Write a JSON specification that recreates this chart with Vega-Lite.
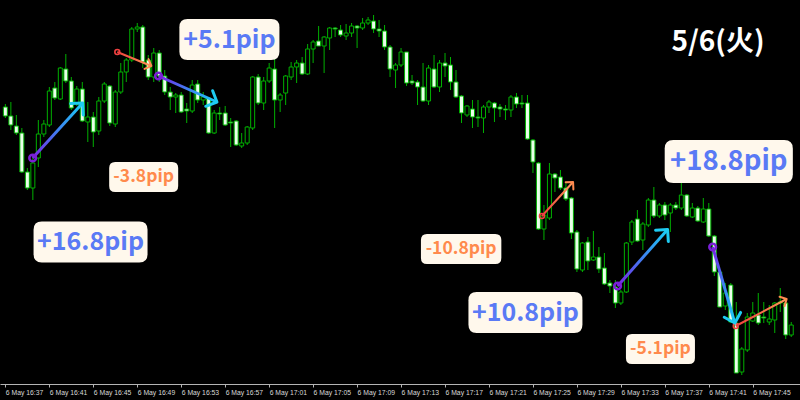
{
"$schema":"https://vega.github.io/schema/vega-lite/v6.json",
"width":800,"height":384,
"autosize":{"type":"none"},
"padding":{"left":0,"top":0,"right":0,"bottom":16},
"background":"#000000",
"config":{"view":{"stroke":null},
 "axisX":{"grid":false,"domainColor":"#b4b4b4","tickColor":"#b4b4b4","tickSize":3,
  "labelAlign":"left","labelBaseline":"top","labelPadding":2,"labelDx":1,
  "labelFont":"Liberation Sans","labelFontSize":6.8,"labelColor":"#d8d8d8",
  "labelOverlap":false,"labelFlush":false,"labelBound":false}},
"datasets":{
"candles":[
{"t":"16:37:00","o":143.393,"h":143.396,"l":143.382,"c":143.384},
{"t":"16:37:30","o":143.384,"h":143.398,"l":143.370,"c":143.375},
{"t":"16:38:00","o":143.374,"h":143.385,"l":143.365,"c":143.367},
{"t":"16:38:30","o":143.367,"h":143.372,"l":143.327,"c":143.328},
{"t":"16:39:00","o":143.328,"h":143.332,"l":143.310,"c":143.312},
{"t":"16:39:30","o":143.312,"h":143.345,"l":143.300,"c":143.337},
{"t":"16:40:00","o":143.342,"h":143.380,"l":143.333,"c":143.366},
{"t":"16:40:30","o":143.366,"h":143.380,"l":143.363,"c":143.376},
{"t":"16:41:00","o":143.375,"h":143.413,"l":143.373,"c":143.409},
{"t":"16:41:30","o":143.412,"h":143.418,"l":143.400,"c":143.402},
{"t":"16:42:00","o":143.401,"h":143.433,"l":143.400,"c":143.432},
{"t":"16:42:30","o":143.431,"h":143.446,"l":143.417,"c":143.419},
{"t":"16:43:00","o":143.419,"h":143.423,"l":143.390,"c":143.392},
{"t":"16:43:30","o":143.396,"h":143.414,"l":143.394,"c":143.411},
{"t":"16:44:00","o":143.411,"h":143.418,"l":143.378,"c":143.379},
{"t":"16:44:30","o":143.378,"h":143.398,"l":143.358,"c":143.383},
{"t":"16:45:00","o":143.383,"h":143.388,"l":143.353,"c":143.368},
{"t":"16:45:30","o":143.369,"h":143.403,"l":143.365,"c":143.399},
{"t":"16:46:00","o":143.399,"h":143.418,"l":143.397,"c":143.416},
{"t":"16:46:30","o":143.414,"h":143.415,"l":143.374,"c":143.377},
{"t":"16:47:00","o":143.376,"h":143.410,"l":143.373,"c":143.408},
{"t":"16:47:30","o":143.408,"h":143.437,"l":143.406,"c":143.428},
{"t":"16:48:00","o":143.428,"h":143.442,"l":143.418,"c":143.440},
{"t":"16:48:30","o":143.440,"h":143.473,"l":143.438,"c":143.471},
{"t":"16:49:00","o":143.471,"h":143.477,"l":143.468,"c":143.473},
{"t":"16:49:30","o":143.473,"h":143.475,"l":143.432,"c":143.438},
{"t":"16:50:00","o":143.440,"h":143.445,"l":143.420,"c":143.423},
{"t":"16:50:30","o":143.423,"h":143.452,"l":143.418,"c":143.447},
{"t":"16:51:00","o":143.447,"h":143.450,"l":143.418,"c":143.424},
{"t":"16:51:30","o":143.424,"h":143.430,"l":143.405,"c":143.408},
{"t":"16:52:00","o":143.408,"h":143.413,"l":143.390,"c":143.403},
{"t":"16:52:30","o":143.403,"h":143.407,"l":143.387,"c":143.405},
{"t":"16:53:00","o":143.405,"h":143.408,"l":143.387,"c":143.388},
{"t":"16:53:30","o":143.391,"h":143.397,"l":143.377,"c":143.389},
{"t":"16:54:00","o":143.389,"h":143.420,"l":143.387,"c":143.415},
{"t":"16:54:30","o":143.416,"h":143.420,"l":143.397,"c":143.400},
{"t":"16:55:00","o":143.400,"h":143.408,"l":143.395,"c":143.403},
{"t":"16:55:30","o":143.402,"h":143.403,"l":143.366,"c":143.367},
{"t":"16:56:00","o":143.367,"h":143.390,"l":143.366,"c":143.387},
{"t":"16:56:30","o":143.387,"h":143.393,"l":143.380,"c":143.386},
{"t":"16:57:00","o":143.387,"h":143.394,"l":143.374,"c":143.375},
{"t":"16:57:30","o":143.378,"h":143.382,"l":143.353,"c":143.377},
{"t":"16:58:00","o":143.379,"h":143.380,"l":143.354,"c":143.355},
{"t":"16:58:30","o":143.354,"h":143.367,"l":143.352,"c":143.357},
{"t":"16:59:00","o":143.357,"h":143.374,"l":143.355,"c":143.373},
{"t":"16:59:30","o":143.372,"h":143.424,"l":143.370,"c":143.423},
{"t":"17:00:00","o":143.423,"h":143.426,"l":143.395,"c":143.397},
{"t":"17:00:30","o":143.397,"h":143.423,"l":143.390,"c":143.419},
{"t":"17:01:00","o":143.419,"h":143.437,"l":143.417,"c":143.432},
{"t":"17:01:30","o":143.431,"h":143.442,"l":143.372,"c":143.400},
{"t":"17:02:00","o":143.400,"h":143.407,"l":143.388,"c":143.405},
{"t":"17:02:30","o":143.407,"h":143.425,"l":143.395,"c":143.424},
{"t":"17:03:00","o":143.423,"h":143.438,"l":143.420,"c":143.433},
{"t":"17:03:30","o":143.433,"h":143.440,"l":143.417,"c":143.437},
{"t":"17:04:00","o":143.437,"h":143.443,"l":143.425,"c":143.426},
{"t":"17:04:30","o":143.426,"h":143.456,"l":143.425,"c":143.451},
{"t":"17:05:00","o":143.451,"h":143.460,"l":143.437,"c":143.458},
{"t":"17:05:30","o":143.459,"h":143.474,"l":143.454,"c":143.454},
{"t":"17:06:00","o":143.454,"h":143.464,"l":143.427,"c":143.463},
{"t":"17:06:30","o":143.462,"h":143.473,"l":143.450,"c":143.472},
{"t":"17:07:00","o":143.472,"h":143.473,"l":143.463,"c":143.471},
{"t":"17:07:30","o":143.470,"h":143.475,"l":143.463,"c":143.465},
{"t":"17:08:00","o":143.464,"h":143.476,"l":143.460,"c":143.467},
{"t":"17:08:30","o":143.467,"h":143.477,"l":143.463,"c":143.474},
{"t":"17:09:00","o":143.474,"h":143.475,"l":143.452,"c":143.472},
{"t":"17:09:30","o":143.472,"h":143.482,"l":143.470,"c":143.477},
{"t":"17:10:00","o":143.477,"h":143.483,"l":143.475,"c":143.480},
{"t":"17:10:30","o":143.479,"h":143.485,"l":143.467,"c":143.471},
{"t":"17:11:00","o":143.471,"h":143.480,"l":143.463,"c":143.469},
{"t":"17:11:30","o":143.469,"h":143.475,"l":143.450,"c":143.453},
{"t":"17:12:00","o":143.453,"h":143.455,"l":143.423,"c":143.431},
{"t":"17:12:30","o":143.430,"h":143.437,"l":143.412,"c":143.435},
{"t":"17:13:00","o":143.435,"h":143.452,"l":143.433,"c":143.448},
{"t":"17:13:30","o":143.448,"h":143.448,"l":143.414,"c":143.417},
{"t":"17:14:00","o":143.419,"h":143.425,"l":143.415,"c":143.417},
{"t":"17:14:30","o":143.418,"h":143.420,"l":143.395,"c":143.413},
{"t":"17:15:00","o":143.413,"h":143.437,"l":143.398,"c":143.399},
{"t":"17:15:30","o":143.399,"h":143.435,"l":143.395,"c":143.432},
{"t":"17:16:00","o":143.431,"h":143.445,"l":143.412,"c":143.413},
{"t":"17:16:30","o":143.413,"h":143.440,"l":143.408,"c":143.437},
{"t":"17:17:00","o":143.437,"h":143.447,"l":143.423,"c":143.434},
{"t":"17:17:30","o":143.435,"h":143.443,"l":143.410,"c":143.418},
{"t":"17:18:00","o":143.418,"h":143.430,"l":143.402,"c":143.403},
{"t":"17:18:30","o":143.404,"h":143.405,"l":143.377,"c":143.387},
{"t":"17:19:00","o":143.385,"h":143.395,"l":143.383,"c":143.394},
{"t":"17:19:30","o":143.391,"h":143.400,"l":143.372,"c":143.383},
{"t":"17:20:00","o":143.383,"h":143.400,"l":143.373,"c":143.382},
{"t":"17:20:30","o":143.382,"h":143.395,"l":143.367,"c":143.393},
{"t":"17:21:00","o":143.393,"h":143.400,"l":143.387,"c":143.398},
{"t":"17:21:30","o":143.397,"h":143.398,"l":143.378,"c":143.392},
{"t":"17:22:00","o":143.393,"h":143.396,"l":143.383,"c":143.391},
{"t":"17:22:30","o":143.391,"h":143.395,"l":143.380,"c":143.390},
{"t":"17:23:00","o":143.390,"h":143.405,"l":143.383,"c":143.403},
{"t":"17:23:30","o":143.403,"h":143.407,"l":143.392,"c":143.396},
{"t":"17:24:00","o":143.397,"h":143.405,"l":143.392,"c":143.396},
{"t":"17:24:30","o":143.397,"h":143.405,"l":143.360,"c":143.361},
{"t":"17:25:00","o":143.360,"h":143.361,"l":143.327,"c":143.338},
{"t":"17:25:30","o":143.337,"h":143.338,"l":143.270,"c":143.271},
{"t":"17:26:00","o":143.271,"h":143.295,"l":143.260,"c":143.285},
{"t":"17:26:30","o":143.282,"h":143.337,"l":143.280,"c":143.326},
{"t":"17:27:00","o":143.326,"h":143.327,"l":143.308,"c":143.322},
{"t":"17:27:30","o":143.323,"h":143.330,"l":143.310,"c":143.312},
{"t":"17:28:00","o":143.312,"h":143.317,"l":143.299,"c":143.301},
{"t":"17:28:30","o":143.302,"h":143.303,"l":143.261,"c":143.267},
{"t":"17:29:00","o":143.268,"h":143.270,"l":143.228,"c":143.231},
{"t":"17:29:30","o":143.230,"h":143.258,"l":143.228,"c":143.257},
{"t":"17:30:00","o":143.258,"h":143.263,"l":143.230,"c":143.239},
{"t":"17:30:30","o":143.240,"h":143.269,"l":143.239,"c":143.243},
{"t":"17:31:00","o":143.243,"h":143.253,"l":143.227,"c":143.231},
{"t":"17:31:30","o":143.232,"h":143.247,"l":143.215,"c":143.216},
{"t":"17:32:00","o":143.217,"h":143.220,"l":143.207,"c":143.214},
{"t":"17:32:30","o":143.213,"h":143.220,"l":143.192,"c":143.197},
{"t":"17:33:00","o":143.197,"h":143.210,"l":143.195,"c":143.208},
{"t":"17:33:30","o":143.208,"h":143.258,"l":143.207,"c":143.257},
{"t":"17:34:00","o":143.258,"h":143.280,"l":143.255,"c":143.278},
{"t":"17:34:30","o":143.281,"h":143.290,"l":143.258,"c":143.259},
{"t":"17:35:00","o":143.260,"h":143.278,"l":143.250,"c":143.276},
{"t":"17:35:30","o":143.275,"h":143.302,"l":143.273,"c":143.300},
{"t":"17:36:00","o":143.300,"h":143.313,"l":143.282,"c":143.284},
{"t":"17:36:30","o":143.284,"h":143.297,"l":143.282,"c":143.295},
{"t":"17:37:00","o":143.295,"h":143.298,"l":143.280,"c":143.285},
{"t":"17:37:30","o":143.287,"h":143.297,"l":143.268,"c":143.295},
{"t":"17:38:00","o":143.295,"h":143.298,"l":143.290,"c":143.292},
{"t":"17:38:30","o":143.292,"h":143.317,"l":143.290,"c":143.305},
{"t":"17:39:00","o":143.305,"h":143.306,"l":143.283,"c":143.284},
{"t":"17:39:30","o":143.283,"h":143.297,"l":143.282,"c":143.292},
{"t":"17:40:00","o":143.292,"h":143.294,"l":143.278,"c":143.279},
{"t":"17:40:30","o":143.278,"h":143.302,"l":143.277,"c":143.291},
{"t":"17:41:00","o":143.291,"h":143.297,"l":143.263,"c":143.264},
{"t":"17:41:30","o":143.264,"h":143.265,"l":143.224,"c":143.228},
{"t":"17:42:00","o":143.228,"h":143.230,"l":143.193,"c":143.193},
{"t":"17:42:30","o":143.194,"h":143.217,"l":143.190,"c":143.207},
{"t":"17:43:00","o":143.215,"h":143.217,"l":143.177,"c":143.178},
{"t":"17:43:30","o":143.177,"h":143.198,"l":143.127,"c":143.127},
{"t":"17:44:00","o":143.128,"h":143.153,"l":143.125,"c":143.151},
{"t":"17:44:30","o":143.150,"h":143.187,"l":143.148,"c":143.183},
{"t":"17:45:00","o":143.179,"h":143.198,"l":143.178,"c":143.187},
{"t":"17:45:30","o":143.185,"h":143.207,"l":143.175,"c":143.177},
{"t":"17:46:00","o":143.183,"h":143.198,"l":143.177,"c":143.182},
{"t":"17:46:30","o":143.178,"h":143.195,"l":143.175,"c":143.181},
{"t":"17:47:00","o":143.180,"h":143.198,"l":143.167,"c":143.197},
{"t":"17:47:30","o":143.198,"h":143.212,"l":143.188,"c":143.197},
{"t":"17:48:00","o":143.197,"h":143.200,"l":143.161,"c":143.165},
{"t":"17:48:30","o":143.165,"h":143.178,"l":143.163,"c":143.175}
],
"trades":[
{"pips":16.8,"label":"+16.8pip","t1":"16:39:29","p1":143.342,"t2":"16:44:02","p2":143.397,"lt":"16:44:45","lp":143.258},
{"pips":5.1,"label":"+5.1pip","t1":"16:50:56","p1":143.424,"t2":"16:56:15","p2":143.398,"lt":"16:57:23","lp":143.4605},
{"pips":-3.8,"label":"-3.8pip","t1":"16:47:11","p1":143.448,"t2":"16:50:17","p2":143.434,"lt":"16:49:35","lp":143.323},
{"pips":-10.8,"label":"-10.8pip","t1":"17:25:49","p1":143.284,"t2":"17:28:39","p2":143.318,"lt":"17:18:28","lp":143.251},
{"pips":10.8,"label":"+10.8pip","t1":"17:32:42","p1":143.214,"t2":"17:37:15","p2":143.2705,"lt":"17:24:19","lp":143.1875},
{"pips":18.8,"label":"+18.8pip","t1":"17:41:21","p1":143.253,"t2":"17:43:22","p2":143.177,"lt":"17:42:49","lp":143.3385},
{"pips":-5.1,"label":"-5.1pip","t1":"17:43:27","p1":143.174,"t2":"17:48:05","p2":143.201,"lt":"17:36:36","lp":143.151}
]
},
"layer":[
{"data":{"name":"candles","format":{"parse":{"t":"date:'%H:%M:%S'"}}},
 "layer":[
  {"mark":{"type":"rule","color":"#00b000","strokeWidth":1},
   "encoding":{
    "x":{"field":"t","type":"temporal",
     "scale":{"domain":[{"year":1900,"month":1,"date":1,"hours":16,"minutes":36,"seconds":58},{"year":1900,"month":1,"date":1,"hours":17,"minutes":48,"seconds":50,"milliseconds":500}]},
     "axis":{"title":null,"format":"6 May %H:%M",
      "values":[
       {"year":1900,"month":1,"date":1,"hours":16,"minutes":37},
       {"year":1900,"month":1,"date":1,"hours":16,"minutes":41},
       {"year":1900,"month":1,"date":1,"hours":16,"minutes":45},
       {"year":1900,"month":1,"date":1,"hours":16,"minutes":49},
       {"year":1900,"month":1,"date":1,"hours":16,"minutes":53},
       {"year":1900,"month":1,"date":1,"hours":16,"minutes":57},
       {"year":1900,"month":1,"date":1,"hours":17,"minutes":1},
       {"year":1900,"month":1,"date":1,"hours":17,"minutes":5},
       {"year":1900,"month":1,"date":1,"hours":17,"minutes":9},
       {"year":1900,"month":1,"date":1,"hours":17,"minutes":13},
       {"year":1900,"month":1,"date":1,"hours":17,"minutes":17},
       {"year":1900,"month":1,"date":1,"hours":17,"minutes":21},
       {"year":1900,"month":1,"date":1,"hours":17,"minutes":25},
       {"year":1900,"month":1,"date":1,"hours":17,"minutes":29},
       {"year":1900,"month":1,"date":1,"hours":17,"minutes":33},
       {"year":1900,"month":1,"date":1,"hours":17,"minutes":37},
       {"year":1900,"month":1,"date":1,"hours":17,"minutes":41},
       {"year":1900,"month":1,"date":1,"hours":17,"minutes":45}]}},
    "y":{"field":"h","type":"quantitative","scale":{"domain":[143.116,143.5],"zero":false,"nice":false},"axis":null},
    "y2":{"field":"l"}
   }},
  {"mark":{"type":"bar","width":4,"stroke":"#00b000","strokeWidth":1},
   "encoding":{
    "x":{"field":"t","type":"temporal","scale":{"domain":[{"year":1900,"month":1,"date":1,"hours":16,"minutes":36,"seconds":58},{"year":1900,"month":1,"date":1,"hours":17,"minutes":48,"seconds":50,"milliseconds":500}]},"axis":{"title":null}},
    "y":{"field":"o","type":"quantitative","scale":{"domain":[143.116,143.5],"zero":false,"nice":false},"axis":null},
    "y2":{"field":"c"},
    "fill":{"condition":{"test":"datum.o > datum.c","value":"#eaffea"},"value":"#000000"}
   }}
 ]},
{"data":{"name":"trades","format":{"parse":{"t1":"date:'%H:%M:%S'","t2":"date:'%H:%M:%S'","lt":"date:'%H:%M:%S'"}}},
 "layer":[
  {"transform":[{"filter":"datum.pips > 0 && datum.p2 > datum.p1"}],
   "mark":{"type":"rule","strokeWidth":3,"stroke":{"gradient":"linear","x1":0,"y1":1,"x2":1,"y2":0,"stops":[{"offset":0,"color":"#7a22e6"},{"offset":0.5,"color":"#3f80f2"},{"offset":1,"color":"#18d0f5"}]}},
   "encoding":{
    "x":{"field":"t1","type":"temporal","scale":{"domain":[{"year":1900,"month":1,"date":1,"hours":16,"minutes":36,"seconds":58},{"year":1900,"month":1,"date":1,"hours":17,"minutes":48,"seconds":50,"milliseconds":500}]},"axis":{"title":null}},
    "y":{"field":"p1","type":"quantitative","scale":{"domain":[143.116,143.5],"zero":false,"nice":false},"axis":null},
    "x2":{"field":"t2"},"y2":{"field":"p2"}}},
  {"transform":[{"filter":"datum.pips > 0 && datum.p2 <= datum.p1"}],
   "mark":{"type":"rule","strokeWidth":3,"stroke":{"gradient":"linear","x1":0,"y1":0,"x2":1,"y2":1,"stops":[{"offset":0,"color":"#7a22e6"},{"offset":0.5,"color":"#3f80f2"},{"offset":1,"color":"#18d0f5"}]}},
   "encoding":{
    "x":{"field":"t1","type":"temporal","scale":{"domain":[{"year":1900,"month":1,"date":1,"hours":16,"minutes":36,"seconds":58},{"year":1900,"month":1,"date":1,"hours":17,"minutes":48,"seconds":50,"milliseconds":500}]},"axis":{"title":null}},
    "y":{"field":"p1","type":"quantitative","scale":{"domain":[143.116,143.5],"zero":false,"nice":false},"axis":null},
    "x2":{"field":"t2"},"y2":{"field":"p2"}}},
  {"transform":[{"filter":"datum.pips < 0 && datum.p2 > datum.p1"}],
   "mark":{"type":"rule","strokeWidth":2,"stroke":{"gradient":"linear","x1":0,"y1":1,"x2":1,"y2":0,"stops":[{"offset":0,"color":"#f0403c"},{"offset":1,"color":"#ff9a58"}]}},
   "encoding":{
    "x":{"field":"t1","type":"temporal","scale":{"domain":[{"year":1900,"month":1,"date":1,"hours":16,"minutes":36,"seconds":58},{"year":1900,"month":1,"date":1,"hours":17,"minutes":48,"seconds":50,"milliseconds":500}]},"axis":{"title":null}},
    "y":{"field":"p1","type":"quantitative","scale":{"domain":[143.116,143.5],"zero":false,"nice":false},"axis":null},
    "x2":{"field":"t2"},"y2":{"field":"p2"}}},
  {"transform":[{"filter":"datum.pips < 0 && datum.p2 <= datum.p1"}],
   "mark":{"type":"rule","strokeWidth":2,"stroke":{"gradient":"linear","x1":0,"y1":0,"x2":1,"y2":1,"stops":[{"offset":0,"color":"#f0403c"},{"offset":1,"color":"#ff9a58"}]}},
   "encoding":{
    "x":{"field":"t1","type":"temporal","scale":{"domain":[{"year":1900,"month":1,"date":1,"hours":16,"minutes":36,"seconds":58},{"year":1900,"month":1,"date":1,"hours":17,"minutes":48,"seconds":50,"milliseconds":500}]},"axis":{"title":null}},
    "y":{"field":"p1","type":"quantitative","scale":{"domain":[143.116,143.5],"zero":false,"nice":false},"axis":null},
    "x2":{"field":"t2"},"y2":{"field":"p2"}}},
  {"mark":{"type":"point","shape":"circle","filled":false,"opacity":1},
   "encoding":{
    "x":{"field":"t1","type":"temporal","scale":{"domain":[{"year":1900,"month":1,"date":1,"hours":16,"minutes":36,"seconds":58},{"year":1900,"month":1,"date":1,"hours":17,"minutes":48,"seconds":50,"milliseconds":500}]},"axis":{"title":null}},
    "y":{"field":"p1","type":"quantitative","scale":{"domain":[143.116,143.5],"zero":false,"nice":false},"axis":null},
    "stroke":{"condition":{"test":"datum.pips > 0","value":"#7a1fd6"},"value":"#f04040"},
    "size":{"condition":{"test":"datum.pips > 0","value":44},"value":24},
    "strokeWidth":{"condition":{"test":"datum.pips > 0","value":2.6},"value":1.6}}},
  {"mark":{"type":"point","shape":"M-1,1L0,0L1,1","filled":false,"opacity":1,"strokeCap":"round","strokeJoin":"round",
    "angle":{"expr":"atan2(scale('x', datum.t2) - scale('x', datum.t1), scale('y', datum.p1) - scale('y', datum.p2)) * 180 / PI"}},
   "encoding":{
    "x":{"field":"t2","type":"temporal","scale":{"domain":[{"year":1900,"month":1,"date":1,"hours":16,"minutes":36,"seconds":58},{"year":1900,"month":1,"date":1,"hours":17,"minutes":48,"seconds":50,"milliseconds":500}]},"axis":{"title":null}},
    "y":{"field":"p2","type":"quantitative","scale":{"domain":[143.116,143.5],"zero":false,"nice":false},"axis":null},
    "stroke":{"condition":{"test":"datum.pips > 0","value":"#1ecbf2"},"value":"#ff8a50"},
    "size":{"condition":{"test":"datum.pips > 0","value":290},"value":110},
    "strokeWidth":{"condition":{"test":"datum.pips > 0","value":3},"value":2}}},
  {"mark":{"type":"point","filled":true,"fill":"#fff8ec","color":"#fff8ec","opacity":1,"strokeOpacity":0},
   "encoding":{
    "x":{"field":"lt","type":"temporal","scale":{"domain":[{"year":1900,"month":1,"date":1,"hours":16,"minutes":36,"seconds":58},{"year":1900,"month":1,"date":1,"hours":17,"minutes":48,"seconds":50,"milliseconds":500}]},"axis":{"title":null}},
    "y":{"field":"lp","type":"quantitative","scale":{"domain":[143.116,143.5],"zero":false,"nice":false},"axis":null},
    "shape":{"condition":[
      {"test":"datum.pips > 18","value":"M-2.58,-1L2.58,-1Q2.98,-1,2.98,-0.6L2.98,0.6Q2.98,1,2.58,1L-2.58,1Q-2.98,1,-2.98,0.6L-2.98,-0.6Q-2.98,-1,-2.58,-1Z"},
      {"test":"datum.pips > 0 && length(datum.label) > 7","value":"M-2.38,-1L2.38,-1Q2.78,-1,2.78,-0.6L2.78,0.6Q2.78,1,2.38,1L-2.38,1Q-2.78,1,-2.78,0.6L-2.78,-0.6Q-2.78,-1,-2.38,-1Z"},
      {"test":"datum.pips > 0","value":"M-2.04,-1L2.04,-1Q2.44,-1,2.44,-0.6L2.44,0.6Q2.44,1,2.04,1L-2.04,1Q-2.44,1,-2.44,0.6L-2.44,-0.6Q-2.44,-1,-2.04,-1Z"},
      {"test":"length(datum.label) > 7","value":"M-2.28,-1L2.28,-1Q2.68,-1,2.68,-0.6L2.68,0.6Q2.68,1,2.28,1L-2.28,1Q-2.68,1,-2.68,0.6L-2.68,-0.6Q-2.68,-1,-2.28,-1Z"}],
     "value":"M-1.9,-1L1.9,-1Q2.3,-1,2.3,-0.6L2.3,0.6Q2.3,1,1.9,1L-1.9,1Q-2.3,1,-2.3,0.6L-2.3,-0.6Q-2.3,-1,-1.9,-1Z"},
    "size":{"condition":[{"test":"datum.pips > 18","value":1849},{"test":"datum.pips > 0","value":1681}],"value":900}}},
  {"mark":{"type":"text","font":"Noto Sans CJK JP","fontWeight":"bold","baseline":"middle","align":"center"},
   "encoding":{
    "x":{"field":"lt","type":"temporal","scale":{"domain":[{"year":1900,"month":1,"date":1,"hours":16,"minutes":36,"seconds":58},{"year":1900,"month":1,"date":1,"hours":17,"minutes":48,"seconds":50,"milliseconds":500}]},"axis":{"title":null}},
    "y":{"field":"lp","type":"quantitative","scale":{"domain":[143.116,143.5],"zero":false,"nice":false},"axis":null},
    "text":{"field":"label"},
    "color":{"condition":{"test":"datum.pips > 0","value":"#5a7af5"},"value":"#ff8a4c"},
    "size":{"condition":[{"test":"datum.pips > 18","value":27.5},{"test":"datum.pips > 0","value":25}],"value":17.5}}}
 ]},
{"data":{"values":[{"label":"5/6(火)","dt":"17:41:50","dp":143.457}],"format":{"parse":{"dt":"date:'%H:%M:%S'"}}},
 "mark":{"type":"text","font":"Noto Sans CJK JP","fontSize":28,"fontWeight":"bold","color":"#ffffff","baseline":"middle","align":"center"},
 "encoding":{
  "x":{"field":"dt","type":"temporal","scale":{"domain":[{"year":1900,"month":1,"date":1,"hours":16,"minutes":36,"seconds":58},{"year":1900,"month":1,"date":1,"hours":17,"minutes":48,"seconds":50,"milliseconds":500}]},"axis":{"title":null}},
  "y":{"field":"dp","type":"quantitative","scale":{"domain":[143.116,143.5],"zero":false,"nice":false},"axis":null},
  "text":{"field":"label"}}}
]
}
